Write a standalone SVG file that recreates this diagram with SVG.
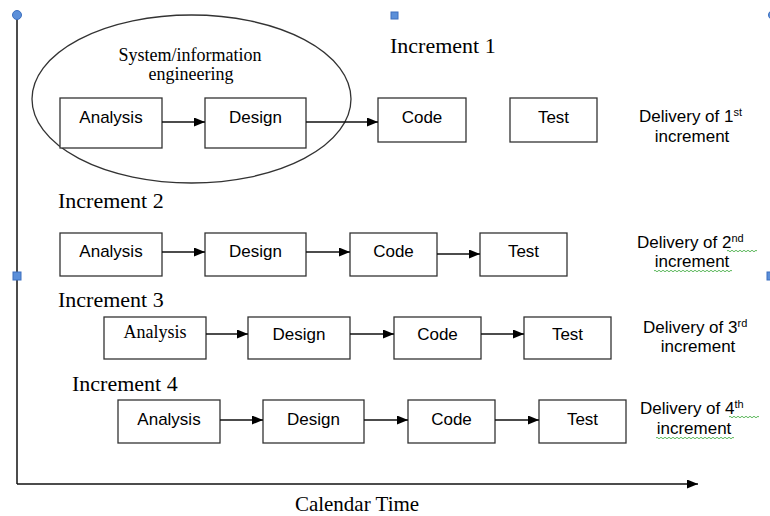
<svg xmlns="http://www.w3.org/2000/svg" width="770" height="516" viewBox="0 0 770 516">
<style>
.box{fill:#fff;stroke:#333;stroke-width:1.3}
.lbl{font-family:"Liberation Sans",Arial,sans-serif;font-size:17px;fill:#000;text-anchor:middle}
.ser{font-family:"Liberation Serif","Times New Roman",serif;fill:#000}
.inc{font-size:22px}
.del{font-family:"Liberation Sans",Arial,sans-serif;font-size:17px;fill:#000}
.sup{font-size:11px}
.conn{stroke:#111;stroke-width:1.5;fill:none}
.wavy{stroke:#5cb85c;stroke-width:1;fill:none}
.handle{fill:#5b8fd9;stroke:#3d6fbf;stroke-width:1}
</style>
<defs>
<marker id="ah" markerUnits="userSpaceOnUse" markerWidth="11" markerHeight="9" refX="11" refY="4.5" orient="auto">
<path d="M0,0 L11,4.5 L0,9 Z" fill="#000"/>
</marker>
</defs>
<rect width="770" height="516" fill="#fff"/>

<!-- axes -->
<g id="axes">
<line x1="17" y1="15" x2="17" y2="484" class="conn"/>
<line x1="17" y1="484" x2="698" y2="484" class="conn" marker-end="url(#ah)"/>
<circle cx="17" cy="15" r="4.5" class="handle"/>
<rect x="391" y="12" width="7" height="7" class="handle"/>
<rect x="13" y="272" width="8" height="8" class="handle"/>
<circle cx="773" cy="15" r="4.5" class="handle"/>
<rect x="767" y="272" width="8" height="8" class="handle"/>
<text x="357" y="511" class="ser" font-size="21" text-anchor="middle">Calendar Time</text>
</g>

<!-- ellipse -->
<g id="sysinfo">
<ellipse cx="191.5" cy="99" rx="159.5" ry="84" fill="none" stroke="#333" stroke-width="1.3"/>
<text x="190" y="61" class="ser" font-size="18" text-anchor="middle">System/information</text>
<text x="191" y="80" class="ser" font-size="18" text-anchor="middle">engineering</text>
</g>

<!-- Increment 1 -->
<g id="inc1">
<text x="390" y="53" class="ser inc">Increment 1</text>
<g id="inc1-analysis"><rect x="60" y="98" width="102" height="50" class="box"/><text x="111" y="123" class="lbl">Analysis</text></g>
<g id="inc1-design"><rect x="205" y="98" width="101" height="50" class="box"/><text x="255.5" y="123" class="lbl">Design</text></g>
<g id="inc1-code"><rect x="378" y="98" width="88" height="44" class="box"/><text x="422" y="123" class="lbl">Code</text></g>
<g id="inc1-test"><rect x="510" y="98" width="87" height="44" class="box"/><text x="553.5" y="123" class="lbl">Test</text></g>
<g id="inc1-delivery"><text x="639" y="122" class="del">Delivery of 1<tspan class="sup" dy="-6">st</tspan></text><text x="692" y="142" class="del" text-anchor="middle">increment</text></g>
</g>

<!-- Increment 2 -->
<g id="inc2">
<text x="58" y="208" class="ser inc">Increment 2</text>
<g id="inc2-analysis"><rect x="60" y="233" width="102" height="43" class="box"/><text x="111" y="257" class="lbl">Analysis</text></g>
<g id="inc2-design"><rect x="205" y="233" width="101" height="43" class="box"/><text x="255.5" y="257" class="lbl">Design</text></g>
<g id="inc2-code"><rect x="350" y="233" width="87" height="43" class="box"/><text x="393.5" y="257" class="lbl">Code</text></g>
<g id="inc2-test"><rect x="480" y="233" width="87" height="43" class="box"/><text x="523.5" y="257" class="lbl">Test</text></g>
<g id="inc2-delivery"><text x="637" y="248" class="del">Delivery of 2<tspan class="sup" dy="-6">nd</tspan></text><text x="692" y="267" class="del" text-anchor="middle">increment</text>
<path class="wavy" d="M727,251 q1,-1.5 2,0 t2,0 t2,0 t2,0 t2,0 t2,0 t2,0 t2,0 t2,0 t2,0 t2,0 t2,0 t2,0 t2,0 t2,0"/>
<path class="wavy" d="M654,271 q1,-1.5 2,0 t2,0 t2,0 t2,0 t2,0 t2,0 t2,0 t2,0 t2,0 t2,0 t2,0 t2,0 t2,0 t2,0 t2,0 t2,0 t2,0 t2,0 t2,0 t2,0 t2,0 t2,0 t2,0 t2,0 t2,0 t2,0 t2,0 t2,0 t2,0 t2,0 t2,0 t2,0 t2,0 t2,0 t2,0 t2,0 t2,0 t2,0 t2,0"/>
</g>
</g>

<!-- Increment 3 -->
<g id="inc3">
<text x="58" y="307" class="ser inc">Increment 3</text>
<g id="inc3-analysis"><rect x="104" y="317" width="102" height="42" class="box"/><text x="155" y="338" class="ser" font-size="18" text-anchor="middle">Analysis</text></g>
<g id="inc3-design"><rect x="248" y="317" width="102" height="42" class="box"/><text x="299" y="340" class="lbl">Design</text></g>
<g id="inc3-code"><rect x="394" y="317" width="87" height="42" class="box"/><text x="437.5" y="340" class="lbl">Code</text></g>
<g id="inc3-test"><rect x="524" y="317" width="87" height="42" class="box"/><text x="567.5" y="340" class="lbl">Test</text></g>
<g id="inc3-delivery"><text x="643" y="333" class="del">Delivery of 3<tspan class="sup" dy="-6">rd</tspan></text><text x="698" y="352" class="del" text-anchor="middle">increment</text></g>
</g>

<!-- Increment 4 -->
<g id="inc4">
<text x="72" y="391" class="ser inc">Increment 4</text>
<g id="inc4-analysis"><rect x="118" y="400" width="102" height="43" class="box"/><text x="169" y="425" class="lbl">Analysis</text></g>
<g id="inc4-design"><rect x="263" y="400" width="101" height="43" class="box"/><text x="313.5" y="425" class="lbl">Design</text></g>
<g id="inc4-code"><rect x="408" y="400" width="87" height="43" class="box"/><text x="451.5" y="425" class="lbl">Code</text></g>
<g id="inc4-test"><rect x="539" y="400" width="87" height="43" class="box"/><text x="582.5" y="425" class="lbl">Test</text></g>
<g id="inc4-delivery"><text x="640" y="414" class="del">Delivery of 4<tspan class="sup" dy="-6">th</tspan></text><text x="694" y="434" class="del" text-anchor="middle">increment</text>
<path class="wavy" d="M729,417 q1,-1.5 2,0 t2,0 t2,0 t2,0 t2,0 t2,0 t2,0 t2,0 t2,0 t2,0 t2,0 t2,0 t2,0 t2,0 t2,0"/>
<path class="wavy" d="M656,438 q1,-1.5 2,0 t2,0 t2,0 t2,0 t2,0 t2,0 t2,0 t2,0 t2,0 t2,0 t2,0 t2,0 t2,0 t2,0 t2,0 t2,0 t2,0 t2,0 t2,0 t2,0 t2,0 t2,0 t2,0 t2,0 t2,0 t2,0 t2,0 t2,0 t2,0 t2,0 t2,0 t2,0 t2,0 t2,0 t2,0 t2,0 t2,0 t2,0 t2,0"/>
</g>
</g>

<!-- connectors -->
<g id="connectors">
<line x1="162" y1="122" x2="205" y2="122" class="conn" marker-end="url(#ah)"/>
<line x1="306" y1="122" x2="378" y2="122" class="conn" marker-end="url(#ah)"/>
<line x1="162" y1="252" x2="205" y2="252" class="conn" marker-end="url(#ah)"/>
<line x1="306" y1="252" x2="350" y2="252" class="conn" marker-end="url(#ah)"/>
<line x1="437" y1="254" x2="480" y2="254" class="conn" marker-end="url(#ah)"/>
<line x1="206" y1="334" x2="248" y2="334" class="conn" marker-end="url(#ah)"/>
<line x1="350" y1="334" x2="394" y2="334" class="conn" marker-end="url(#ah)"/>
<line x1="481" y1="334" x2="524" y2="334" class="conn" marker-end="url(#ah)"/>
<line x1="220" y1="420" x2="263" y2="420" class="conn" marker-end="url(#ah)"/>
<line x1="364" y1="420" x2="408" y2="420" class="conn" marker-end="url(#ah)"/>
<line x1="495" y1="420" x2="539" y2="420" class="conn" marker-end="url(#ah)"/>
</g>
</svg>
